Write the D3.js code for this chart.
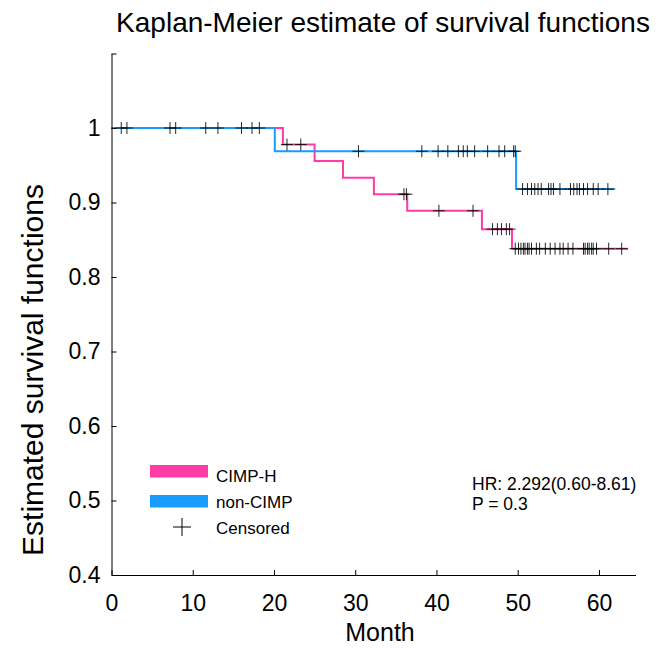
<!DOCTYPE html>
<html>
<head>
<meta charset="utf-8">
<script src="https://cdn.jsdelivr.net/npm/d3@7"></script>
<style>
  body { margin: 0; background: #fff; }
  svg text { font-family: "Liberation Sans", Arial, sans-serif; fill: #000; }
</style>
</head>
<body>
<svg id="chart" width="660" height="648"></svg>
<script>
// ─── Data ────────────────────────────────────────────────

const groups = ["CIMP-H", "non-CIMP"];
const colors = ["#ff3ba6", "#199cff"];

// step times (months) and survival level after each step
const cimpTimes  = [0, 21.1, 25.0, 28.5, 32.3, 36.4, 45.6, 49.3];
const cimpSurv   = [1, 0.9778, 0.9556, 0.9333, 0.9111, 0.8889, 0.8642, 0.8380];
const cimpEnd    = 63.6;
const cimpCens   = [1.2, 7.9, 11.6, 16.0, 18.2, 21.6, 23.3, 36.0, 36.3, 40.3, 44.5,
                    46.9, 47.5, 48.0, 48.6, 49.0,
                    49.7, 50.1, 50.4, 50.7, 50.9, 51.2, 51.4, 51.7, 52.3, 52.7, 53.4, 54.0,
                    54.6, 55.2, 55.6, 56.2, 56.8, 58.1, 58.3, 58.6, 58.8, 59.1, 59.3, 59.7,
                    61.2, 62.8];

const nonTimes   = [0, 20.1, 49.8];
const nonSurv    = [1, 0.9688, 0.918];
const nonEnd     = 62.0;
const nonCens    = [1.9, 7.2, 13.1, 17.3, 30.4, 38.2, 40.2, 41.4, 42.7, 43.3, 43.8, 44.7,
                    46.3, 47.7, 48.4, 49.5, 49.7,
                    50.6, 51.2, 51.7, 52.1, 52.5, 52.9, 53.8, 54.1, 54.4, 55.2, 56.5, 56.9,
                    57.3, 57.6, 58.1, 58.6, 59.3, 59.9, 61.1];

const xTicks = [0, 10, 20, 30, 40, 50, 60];
const yTicks = [0.4, 0.5, 0.6, 0.7, 0.8, 0.9, 1, 1.1];

const hrText = ["HR: 2.292(0.60-8.61)", "P = 0.3"];

// ─── Chart ────────────────────────────

const svg = d3.select("#chart");

const x = d3.scaleLinear().domain([0, 64.5]).range([111.5, 635.5]);
const y = d3.scaleLinear().domain([0.4, 1.1]).range([575, 53.5]);

// step function lookup
function survAt(times, surv, t) {
  let v = surv[0];
  for (let i = 0; i < times.length; i++) if (times[i] <= t) v = surv[i];
  return v;
}

function stepPoints(times, surv, end) {
  const pts = times.map((t, i) => [t, surv[i]]);
  pts.push([end, surv[surv.length - 1]]);
  return pts;
}

const line = d3.line()
  .x(d => x(d[0]))
  .y(d => y(d[1]))
  .curve(d3.curveStepAfter);

const series = [
  { pts: stepPoints(cimpTimes, cimpSurv, cimpEnd), cens: cimpCens, times: cimpTimes, surv: cimpSurv },
  { pts: stepPoints(nonTimes, nonSurv, nonEnd), cens: nonCens, times: nonTimes, surv: nonSurv },
];

// curves
series.forEach((s, i) => {
  svg.append("path")
    .datum(s.pts)
    .attr("fill", "none")
    .attr("stroke", colors[i])
    .attr("stroke-width", 2)
    .attr("d", line);
});

// censored marks
const mk = 6;
series.forEach(s => {
  const g = svg.append("g");
  s.cens.forEach(t => {
    const cx = x(t), cy = y(survAt(s.times, s.surv, t));
    g.append("path")
      .attr("d", `M${cx - mk},${cy}H${cx + mk}M${cx},${cy - mk}V${cy + mk}`)
      .attr("stroke", "#000")
      .attr("stroke-opacity", 0.85)
      .attr("stroke-width", 1);
  });
});

// axes (ticks point inward, box off)
const xAxis = d3.axisBottom(x).tickValues(xTicks).tickSizeInner(-5).tickSizeOuter(0).tickPadding(20);
const yAxis = d3.axisLeft(y).tickValues(yTicks).tickSizeInner(-5).tickSizeOuter(0).tickPadding(11)
  .tickFormat(d => d > 1.05 ? "" : d3.format("")(d));

const gx = svg.append("g").attr("transform", `translate(0,${y(0.4)})`).call(xAxis);
const gy = svg.append("g").attr("transform", `translate(${x(0)},0)`).call(yAxis);

[gx, gy].forEach(g => {
  g.select(".domain").attr("stroke", "#000").attr("stroke-width", 1);
  g.selectAll(".tick line").attr("stroke", "#000");
  g.selectAll(".tick text").attr("font-size", 23).attr("font-family", "Liberation Sans, Arial, sans-serif");
});

// title and axis labels
svg.append("text")
  .attr("x", 383).attr("y", 32)
  .attr("text-anchor", "middle")
  .attr("font-size", 28)
  .text("Kaplan-Meier estimate of survival functions");

svg.append("text")
  .attr("x", 380).attr("y", 641)
  .attr("text-anchor", "middle")
  .attr("font-size", 25)
  .text("Month");

svg.append("text")
  .attr("transform", "translate(43,370) rotate(-90)")
  .attr("text-anchor", "middle")
  .attr("font-size", 30)
  .text("Estimated survival functions");

// legend
const legend = svg.append("g");
groups.forEach((name, i) => {
  const ry = 465 + i * 30;
  legend.append("rect")
    .attr("x", 150).attr("y", ry).attr("width", 58).attr("height", 12.5)
    .attr("fill", colors[i]);
  legend.append("text")
    .attr("x", 216).attr("y", 482 + i * 26)
    .attr("font-size", 17)
    .text(name);
});
legend.append("path")
  .attr("d", "M173,527H191M182,518V536")
  .attr("stroke", "#000").attr("stroke-width", 1);
legend.append("text")
  .attr("x", 216).attr("y", 534)
  .attr("font-size", 17)
  .text("Censored");

// HR annotation
hrText.forEach((t, i) => {
  svg.append("text")
    .attr("x", 472).attr("y", 490 + i * 20)
    .attr("font-size", 17.5)
    .text(t);
});
</script>
</body>
</html>
